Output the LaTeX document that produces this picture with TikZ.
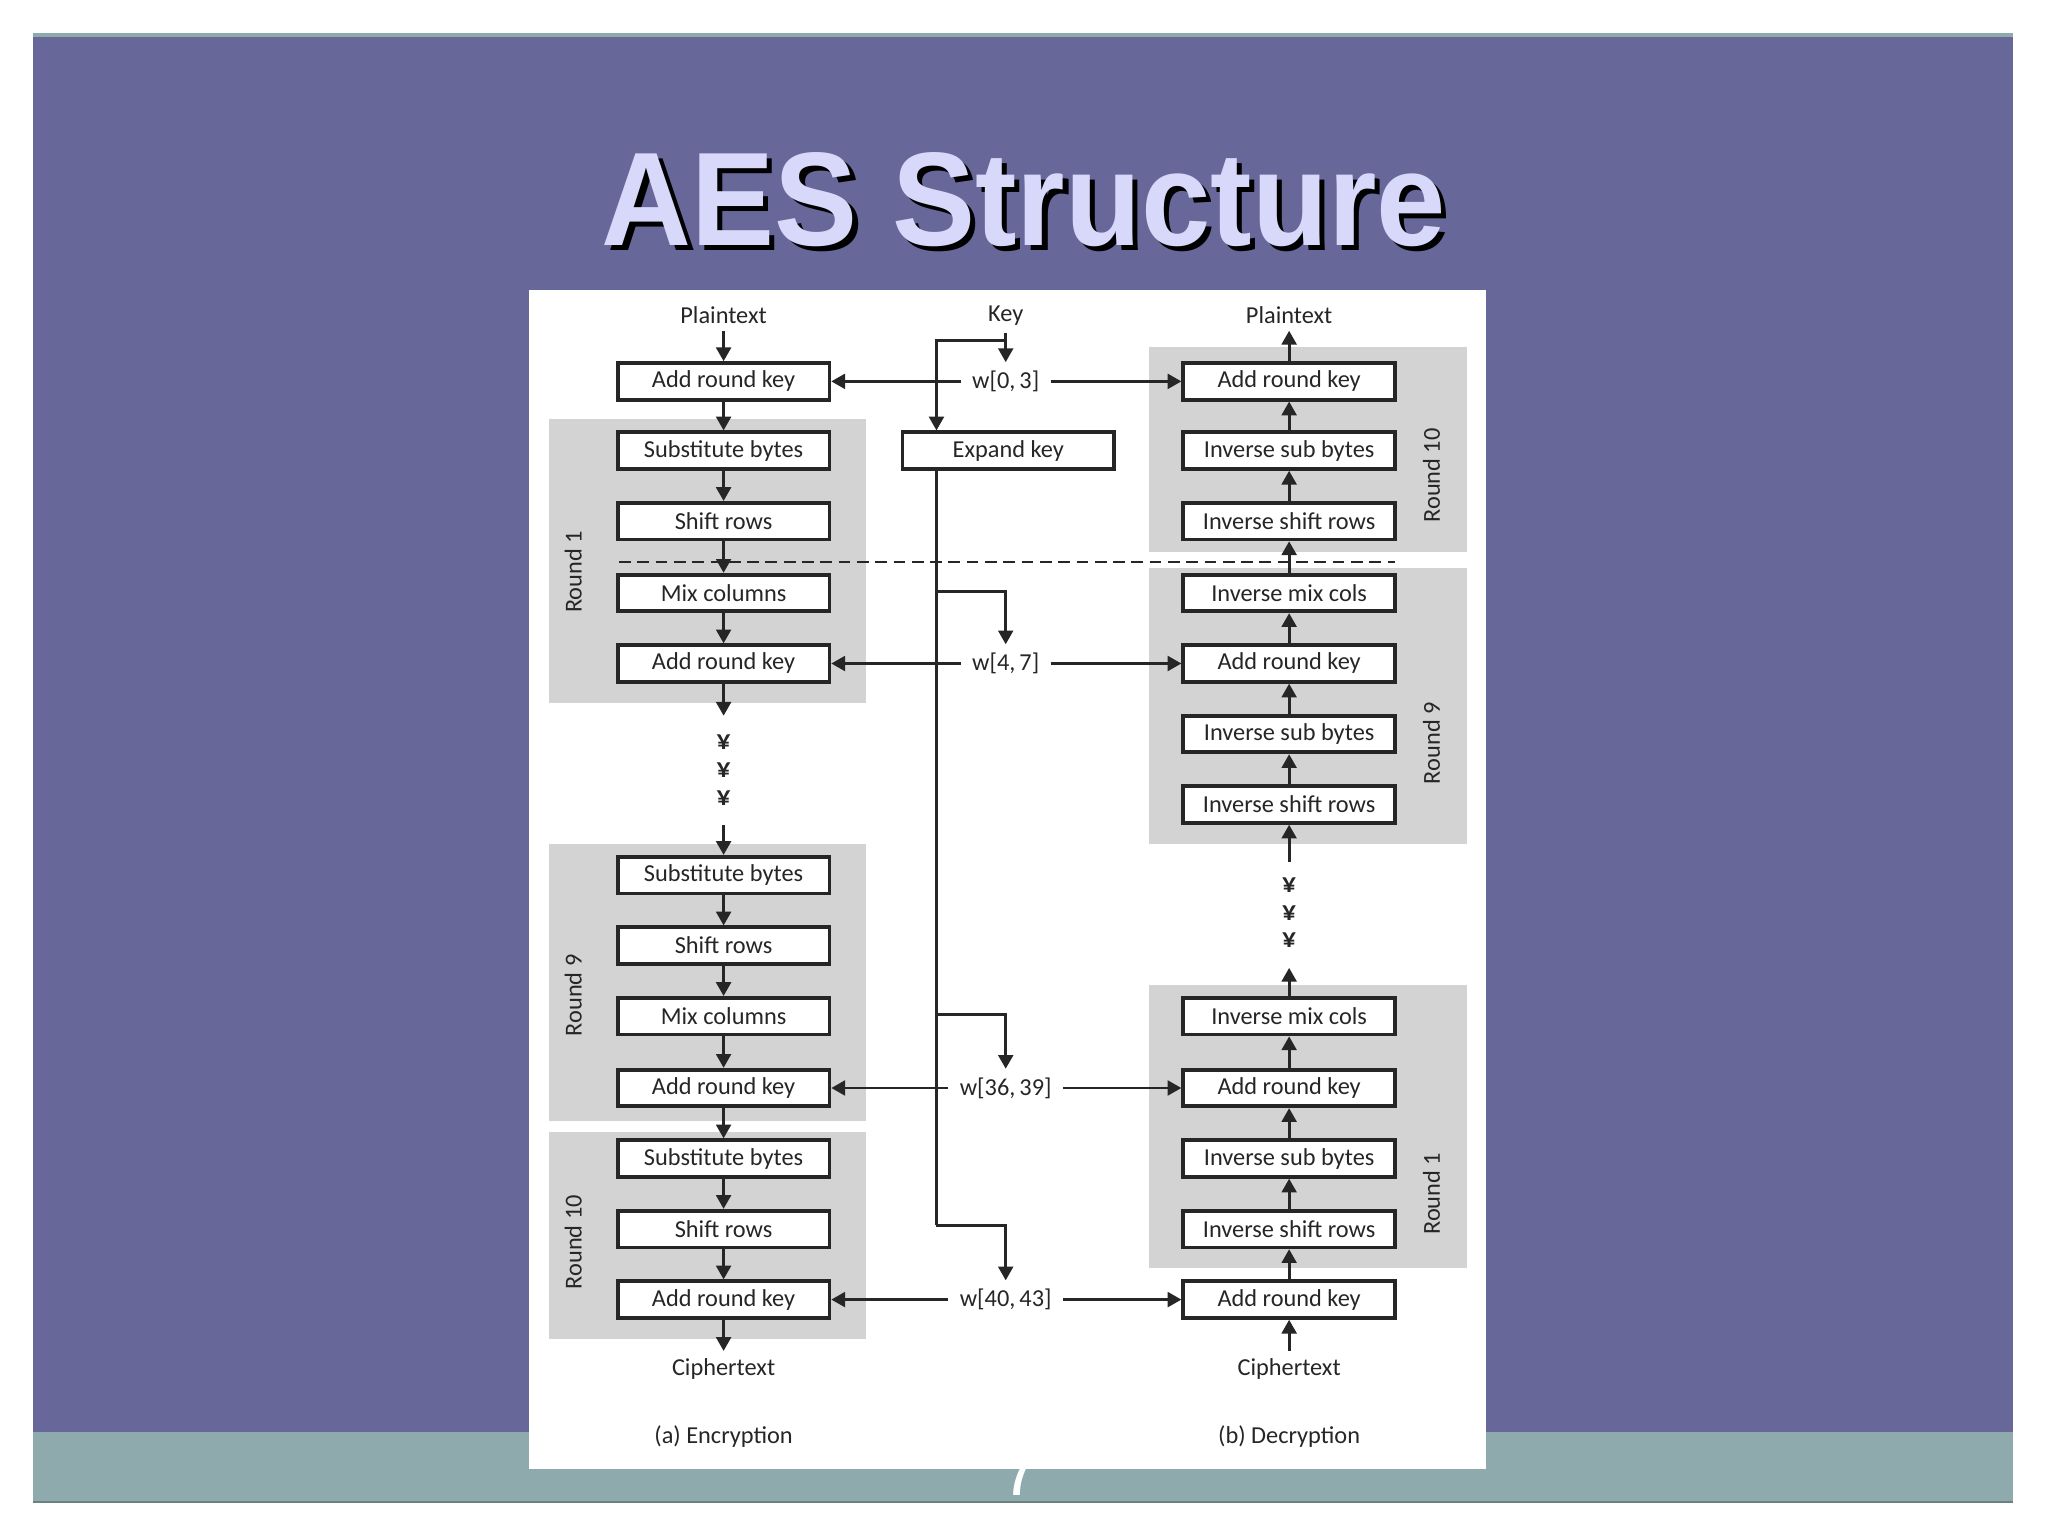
\documentclass[tikz,border=0pt]{standalone}
\usepackage{fontspec}
\setmainfont{Carlito}
\newfontfamily\titlefont{Liberation Sans}
\usetikzlibrary{arrows.meta,calc}
\definecolor{slidebg}{RGB}{103,103,154}
\definecolor{band}{RGB}{142,170,172}
\definecolor{titlec}{RGB}{216,216,250}
\definecolor{roundgray}{RGB}{211,211,211}
\definecolor{ink}{RGB}{38,38,38}
\begin{document}
\begin{tikzpicture}[x=0.01cm,y=-0.01cm,
 txt/.style={font=\fontsize{5.3}{6}\selectfont, text=ink, inner sep=0pt},
 lbl/.style={txt, inner sep=0.05cm},
 dotsym/.style={txt, font=\fontsize{6}{7}\selectfont\bfseries},
 stepbox/.style={txt, draw=ink, line width=0.8pt, fill=white, minimum width=1.62cm, minimum height=0.28cm},
 keylbl/.style={txt, inner xsep=0.08cm, inner ysep=0.06cm},
 arr/.style={draw=ink, line width=0.65pt, -{Triangle[length=3pt,width=3.2pt]}},
 wire/.style={draw=ink, line width=0.65pt},
 rnd/.style={txt, rotate=90},
 bg/.style={fill=roundgray}]
\useasboundingbox (0,0) rectangle (1568,1176);
\fill[white] (0,0) rectangle (1568,1176);
% slide
\fill[slidebg] (25,27) rectangle (1541,1150);
\fill[band] (25,1096) rectangle (1541,1150);
\draw[band!75!black, line width=0.6pt] (25,1150) -- (1541,1150);
\draw[band, line width=0.8pt] (25,27) -- (1541,27);
\node[text=white, font=\titlefont\fontsize{16}{18}\selectfont] (pg) at (782,1126) {7};
\fill[white] (405,222) rectangle (1138,1125);
% title
\node[anchor=base, text=black, font=\titlefont\bfseries\fontsize{29}{32}\selectfont, xscale=0.935] (tsh) at (788,192) {AES Structure};
\node[anchor=base, text=titlec, font=\titlefont\bfseries\fontsize{29}{32}\selectfont, xscale=0.935] (title) at (784,188) {AES Structure};
% round backgrounds
\path[bg] (420,321) rectangle (663,538);
\path[bg] (420,646) rectangle (663,858);
\path[bg] (420,867) rectangle (663,1025);
\path[bg] (880,266) rectangle (1123,423);
\path[bg] (880,435) rectangle (1123,646);
\path[bg] (880,754) rectangle (1123,971);
\node[rnd] (er1) at (439,438) {Round 1};
\node[rnd] (er9) at (439,762) {Round 9};
\node[rnd] (er10) at (439,951) {Round 10};
\node[rnd] (dr10) at (1096,364) {Round 10};
\node[rnd] (dr9) at (1096,569) {Round 9};
\node[rnd] (dr1) at (1096,914) {Round 1};
% dashed separator
\coordinate (dl) at (474,430);
\coordinate (dr) at (1068,430);
\draw[ink, line width=0.45pt, dash pattern=on 0.09cm off 0.05cm] (dl) -- (dr);
% encryption
\node[lbl] (ept) at (554,241) {Plaintext};
\node[stepbox] (e0) at (554,292) {Add round key};
\node[stepbox] (e1) at (554,345) {Substitute bytes};
\node[stepbox] (e2) at (554,399) {Shift rows};
\node[stepbox] (e3) at (554,454) {Mix columns};
\node[stepbox] (e4) at (554,508) {Add round key};
\node[dotsym] (ed1) at (554,568) {¥};
\node[dotsym] (ed2) at (554,590) {¥};
\node[dotsym] (ed3) at (554,611) {¥};
\node[stepbox] (e5) at (554,670) {Substitute bytes};
\node[stepbox] (e6) at (554,724) {Shift rows};
\node[stepbox] (e7) at (554,778) {Mix columns};
\node[stepbox] (e8) at (554,833) {Add round key};
\node[stepbox] (e9) at (554,887) {Substitute bytes};
\node[stepbox] (e10) at (554,941) {Shift rows};
\node[stepbox] (e11) at (554,995) {Add round key};
\node[lbl] (ect) at (554,1048) {Ciphertext};
\node[lbl] (ecap) at (554,1100) {(a) Encryption};
\coordinate (eo) at (554,548);
\coordinate (ei) at (554,632);
\draw[arr] (ept) -- (e0);
\draw[arr] (e0) -- (e1);
\draw[arr] (e1) -- (e2);
\draw[arr] (e2) -- (e3);
\draw[arr] (e3) -- (e4);
\draw[arr] (e4) -- (eo);
\draw[arr] (ei) -- (e5);
\draw[arr] (e5) -- (e6);
\draw[arr] (e6) -- (e7);
\draw[arr] (e7) -- (e8);
\draw[arr] (e8) -- (e9);
\draw[arr] (e9) -- (e10);
\draw[arr] (e10) -- (e11);
\draw[arr] (e11) -- (ect);
% decryption
\node[lbl] (dpt) at (987,241) {Plaintext};
\node[stepbox] (d0) at (987,292) {Add round key};
\node[stepbox] (d1) at (987,345) {Inverse sub bytes};
\node[stepbox] (d2) at (987,399) {Inverse shift rows};
\node[stepbox] (d3) at (987,454) {Inverse mix cols};
\node[stepbox] (d4) at (987,508) {Add round key};
\node[stepbox] (d5) at (987,562) {Inverse sub bytes};
\node[stepbox] (d6) at (987,616) {Inverse shift rows};
\node[dotsym] (dd1) at (987,678) {¥};
\node[dotsym] (dd2) at (987,699) {¥};
\node[dotsym] (dd3) at (987,720) {¥};
\node[stepbox] (d7) at (987,778) {Inverse mix cols};
\node[stepbox] (d8) at (987,833) {Add round key};
\node[stepbox] (d9) at (987,887) {Inverse sub bytes};
\node[stepbox] (d10) at (987,941) {Inverse shift rows};
\node[stepbox] (d11) at (987,995) {Add round key};
\node[lbl] (dct) at (987,1048) {Ciphertext};
\node[lbl] (dcap) at (987,1100) {(b) Decryption};
\coordinate (di) at (987,660);
\coordinate (do) at (987,741);
\draw[arr] (d0) -- (dpt);
\draw[arr] (d1) -- (d0);
\draw[arr] (d2) -- (d1);
\draw[arr] (d3) -- (d2);
\draw[arr] (d4) -- (d3);
\draw[arr] (d5) -- (d4);
\draw[arr] (d6) -- (d5);
\draw[arr] (di) -- (d6);
\draw[arr] (d7) -- (do);
\draw[arr] (d8) -- (d7);
\draw[arr] (d9) -- (d8);
\draw[arr] (d10) -- (d9);
\draw[arr] (d11) -- (d10);
\draw[arr] (dct) -- (d11);
% key schedule
\node[lbl] (key) at (770,242) {Key};
\node[stepbox] (exp) at (772,345) {Expand key};
\node[keylbl] (w0) at (770,292) {w[0,\,3]};
\node[keylbl] (w1) at (770,508) {w[4,\,7]};
\node[keylbl] (w2) at (770,833) {w[36,\,39]};
\node[keylbl] (w3) at (770,995) {w[40,\,43]};
\coordinate (kb) at (770,261);
\coordinate (kl) at (717,261);
\coordinate (b1) at (717,453);
\coordinate (b2) at (717,777);
\coordinate (vb) at (717,938);
\draw[arr] (key) -- (w0);
\draw[arr] (kb) -- (kl) -- (kl |- exp.north);
\draw[wire] (kl |- exp.south) -- (vb);
\draw[arr] (b1) -| (w1.north);
\draw[arr] (b2) -| (w2.north);
\draw[arr] (vb) -| (w3.north);
\draw[arr] (w0) -- (e0);
\draw[arr] (w0) -- (d0);
\draw[arr] (w1) -- (e4);
\draw[arr] (w1) -- (d4);
\draw[arr] (w2) -- (e8);
\draw[arr] (w2) -- (d8);
\draw[arr] (w3) -- (e11);
\draw[arr] (w3) -- (d11);
\end{tikzpicture}
\end{document}
